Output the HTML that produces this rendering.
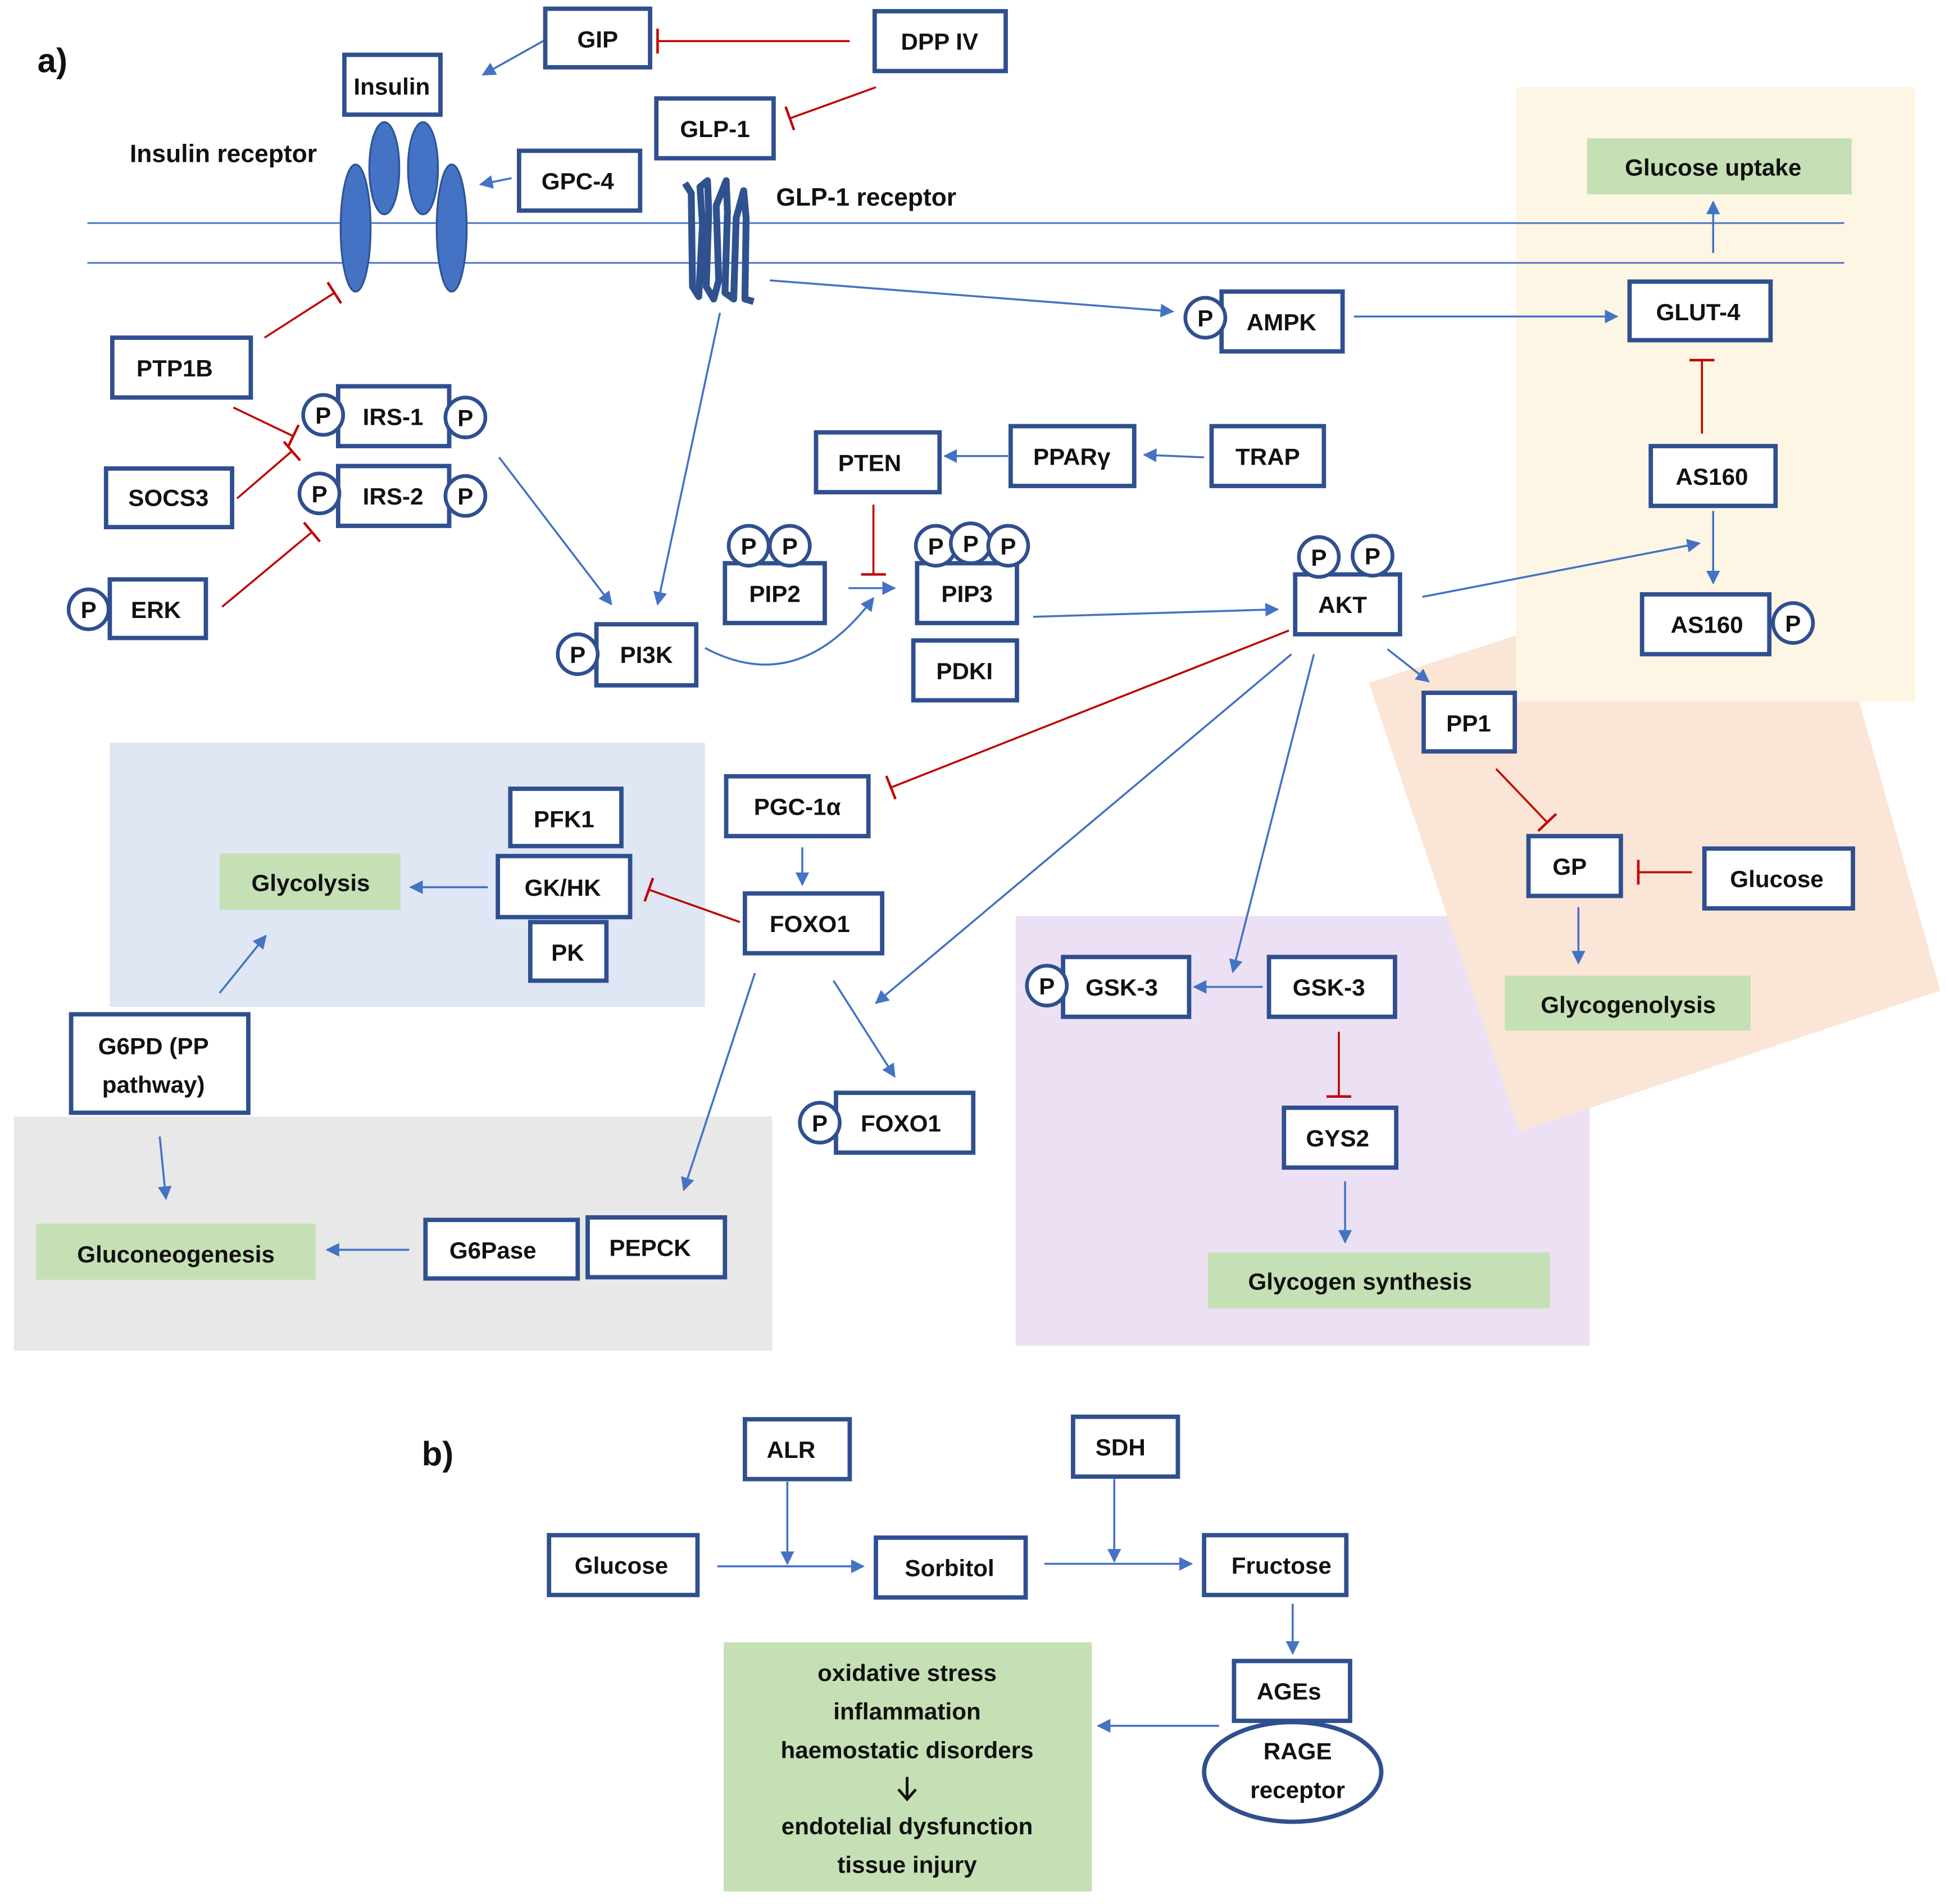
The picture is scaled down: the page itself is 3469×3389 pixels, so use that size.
<!DOCTYPE html>
<html><head><meta charset="utf-8"><style>
html,body{margin:0;padding:0;background:#fff}
svg{display:block}
text{font-family:"Liberation Sans",sans-serif;font-weight:bold;font-size:19px;fill:#111}
.b{fill:#fff;stroke:#2f4f8f;stroke-width:3.5}
.a{stroke:#4472c4;stroke-width:1.6;fill:none;marker-end:url(#ah)}
.r{stroke:#c00000;stroke-width:1.6;fill:none;marker-end:url(#tb)}
.p{fill:#fff;stroke:#2f4f8f;stroke-width:3}
.g{fill:#c5e0b4}
</style></head><body>
<svg width="3469" height="3389" viewBox="0 0 1562 1528" preserveAspectRatio="none" xmlns="http://www.w3.org/2000/svg">
<defs>
<marker id="ah" viewBox="0 0 10 10" refX="9" refY="5" markerWidth="11" markerHeight="11" orient="auto" markerUnits="userSpaceOnUse"><path d="M0,0 L10,5 L0,10 z" fill="#4472c4"/></marker>
<marker id="tb" viewBox="0 0 4 20" refX="2" refY="10" markerWidth="4" markerHeight="20" orient="auto" markerUnits="userSpaceOnUse"><line x1="2" y1="0" x2="2" y2="20" stroke="#c00000" stroke-width="2"/></marker>
</defs>
<rect x="814" y="735" width="460" height="345" fill="#ece1f4"/>
<polygon points="1097,548 1215,510 1490,563 1555,795 1218,908" fill="#fbe5d6"/>
<rect x="1215" y="70" width="320" height="493" fill="#fef6e4"/>
<rect x="88" y="596" width="477" height="212" fill="#dfe6f4"/>
<rect x="11" y="896" width="608" height="188" fill="#e8e8e8"/>
<rect class="g" x="1272" y="111" width="212" height="45"/>
<rect class="g" x="176" y="685" width="145" height="45"/>
<rect class="g" x="29" y="982" width="224" height="45"/>
<rect class="g" x="1206" y="783" width="197" height="44"/>
<rect class="g" x="968" y="1005" width="274" height="45"/>
<rect class="g" x="580" y="1318" width="295" height="200"/>
<text x="1373" y="141" text-anchor="middle">Glucose uptake</text>
<text x="249" y="715" text-anchor="middle">Glycolysis</text>
<text x="141" y="1013" text-anchor="middle">Gluconeogenesis</text>
<text x="1305" y="813" text-anchor="middle">Glycogenolysis</text>
<text x="1090" y="1035" text-anchor="middle">Glycogen synthesis</text>
<g text-anchor="middle"><text x="727" y="1349">oxidative stress</text><text x="727" y="1380">inflammation</text><text x="727" y="1411">haemostatic disorders</text><text x="727" y="1472">endotelial dysfunction</text><text x="727" y="1503">tissue injury</text></g>
<path d="M727,1426 L727,1444 M720,1436 L727,1444 L734,1436" stroke="#111" stroke-width="2.2" fill="none"/>
<line x1="70" y1="179" x2="1478" y2="179" stroke="#4472c4" stroke-width="1.3"/>
<line x1="70" y1="211" x2="1478" y2="211" stroke="#4472c4" stroke-width="1.3"/>
<g fill="#4472c4" stroke="#2f5597" stroke-width="1.5">
<ellipse cx="285" cy="183" rx="12" ry="51"/><ellipse cx="308" cy="135" rx="12" ry="37"/><ellipse cx="339" cy="135" rx="12" ry="37"/><ellipse cx="362" cy="183" rx="12" ry="51"/></g>
<path d="M549,147 L554,155 L555,230 L560,238 L563,180 L561,150 L567,145 L568,170 L566,230 L572,240 L576,225 L574,165 L582,145 L583,170 L581,235 L588,240 L590,175 L596,153 L598,175 L597,240 L604,242" fill="none" stroke="#2f528f" stroke-width="5.5" stroke-linejoin="round"/>
<text x="104" y="130" style="font-size:20px">Insulin receptor</text>
<text x="622" y="165" style="font-size:20px">GLP-1 receptor</text>
<text x="30" y="58" style="font-size:27px">a)</text>
<text x="338" y="1176" style="font-size:27px">b)</text>
<path class="a" d="M437,32 L387,60"/>
<path class="a" d="M410,143 L385,148"/>
<path class="a" d="M617,225 L940,250"/>
<path class="a" d="M1085,254 L1296,254"/>
<path class="a" d="M1373,203 L1373,162"/>
<path class="a" d="M1373,410 L1373,468"/>
<path class="a" d="M1140,479 L1362,436"/>
<path class="a" d="M577,251 L527,485"/>
<path class="a" d="M400,367 L490,485"/>
<path class="a" d="M565,520 Q640,560 700,480"/>
<path class="a" d="M680,472 L717,472"/>
<path class="a" d="M828,495 L1024,489"/>
<path class="a" d="M808,366 L757,366"/>
<path class="a" d="M965,367 L917,365"/>
<path class="a" d="M1112,521 L1145,547"/>
<path class="a" d="M1053,525 L988,780"/>
<path class="a" d="M1035,525 L702,805"/>
<path class="a" d="M643,680 L643,710"/>
<path class="a" d="M668,787 L717,864"/>
<path class="a" d="M605,781 L548,955"/>
<path class="a" d="M391,712 L329,712"/>
<path class="a" d="M176,797 L213,751"/>
<path class="a" d="M128,912 L133,962"/>
<path class="a" d="M328,1003 L262,1003"/>
<path class="a" d="M1012,792 L957,792"/>
<path class="a" d="M1078,948 L1078,997"/>
<path class="a" d="M1265,728 L1265,773"/>
<path class="a" d="M575,1257 L692,1257"/>
<path class="a" d="M631,1189 L631,1255"/>
<path class="a" d="M837,1255 L955,1255"/>
<path class="a" d="M893,1187 L893,1253"/>
<path class="a" d="M1036,1287 L1036,1327"/>
<path class="a" d="M977,1385 L880,1385"/>
<path class="r" d="M681,33 L527,33"/>
<path class="r" d="M702,70 L633,95"/>
<path class="r" d="M212,271 L268,235"/>
<path class="r" d="M187,327 L235,350"/>
<path class="r" d="M190,400 L234,362"/>
<path class="r" d="M178,487 L250,427"/>
<path class="r" d="M700,405 L700,461"/>
<path class="r" d="M1033,506 L714,632"/>
<path class="r" d="M593,740 L520,714"/>
<path class="r" d="M1364,348 L1364,289"/>
<path class="r" d="M1199,617 L1240,660"/>
<path class="r" d="M1356,700 L1313,700"/>
<path class="r" d="M1073,828 L1073,880"/>
<g>
<rect class="b" x="437" y="7" width="84" height="47"/>
<rect class="b" x="701" y="9" width="105" height="48"/>
<rect class="b" x="276" y="44" width="77" height="48"/>
<rect class="b" x="526" y="79" width="94" height="48"/>
<rect class="b" x="416" y="121" width="97" height="48"/>
<rect class="b" x="1306" y="226" width="113" height="47"/>
<rect class="b" x="979" y="234" width="97" height="48"/>
<rect class="b" x="90" y="271" width="111" height="48"/>
<rect class="b" x="271" y="310" width="89" height="48"/>
<rect class="b" x="271" y="374" width="89" height="48"/>
<rect class="b" x="85" y="376" width="101" height="47"/>
<rect class="b" x="654" y="347" width="99" height="48"/>
<rect class="b" x="810" y="342" width="99" height="48"/>
<rect class="b" x="971" y="342" width="90" height="48"/>
<rect class="b" x="1323" y="358" width="100" height="48"/>
<rect class="b" x="581" y="452" width="80" height="48"/>
<rect class="b" x="735" y="452" width="80" height="48"/>
<rect class="b" x="1038" y="461" width="84" height="48"/>
<rect class="b" x="88" y="465" width="77" height="47"/>
<rect class="b" x="1316" y="477" width="102" height="48"/>
<rect class="b" x="478" y="501" width="80" height="49"/>
<rect class="b" x="732" y="514" width="83" height="48"/>
<rect class="b" x="1141" y="556" width="73" height="47"/>
<rect class="b" x="582" y="623" width="114" height="48"/>
<rect class="b" x="409" y="633" width="89" height="46"/>
<rect class="b" x="425" y="740" width="61" height="47"/>
<rect class="b" x="399" y="687" width="106" height="49"/>
<rect class="b" x="1225" y="671" width="74" height="48"/>
<rect class="b" x="1366" y="681" width="119" height="48"/>
<rect class="b" x="597" y="717" width="110" height="48"/>
<rect class="b" x="852" y="768" width="101" height="48"/>
<rect class="b" x="1017" y="768" width="101" height="48"/>
<rect class="b" x="57" y="814" width="142" height="79"/>
<rect class="b" x="670" y="877" width="110" height="48"/>
<rect class="b" x="1029" y="889" width="90" height="48"/>
<rect class="b" x="341" y="979" width="122" height="47"/>
<rect class="b" x="471" y="977" width="110" height="48"/>
<rect class="b" x="597" y="1139" width="84" height="48"/>
<rect class="b" x="860" y="1137" width="84" height="48"/>
<rect class="b" x="440" y="1232" width="119" height="48"/>
<rect class="b" x="702" y="1234" width="120" height="48"/>
<rect class="b" x="965" y="1232" width="114" height="48"/>
<rect class="b" x="989" y="1333" width="93" height="48"/>
<ellipse class="b" cx="1036" cy="1422" rx="71" ry="40"/>
</g>
<g text-anchor="middle">
<text x="479" y="38">GIP</text>
<text x="753" y="40">DPP IV</text>
<text x="314" y="76">Insulin</text>
<text x="573" y="110">GLP-1</text>
<text x="463" y="152">GPC-4</text>
<text x="1361" y="257">GLUT-4</text>
<text x="1027" y="265">AMPK</text>
<text x="140" y="302">PTP1B</text>
<text x="315" y="341">IRS-1</text>
<text x="315" y="405">IRS-2</text>
<text x="135" y="406">SOCS3</text>
<text x="697" y="378">PTEN</text>
<text x="859" y="373">PPARγ</text>
<text x="1016" y="373">TRAP</text>
<text x="1372" y="389">AS160</text>
<text x="621" y="483">PIP2</text>
<text x="775" y="483">PIP3</text>
<text x="1076" y="492">AKT</text>
<text x="125" y="496">ERK</text>
<text x="1368" y="508">AS160</text>
<text x="518" y="532">PI3K</text>
<text x="773" y="545">PDKI</text>
<text x="1177" y="587">PP1</text>
<text x="639" y="654">PGC-1α</text>
<text x="452" y="664">PFK1</text>
<text x="451" y="719">GK/HK</text>
<text x="455" y="771">PK</text>
<text x="1258" y="702">GP</text>
<text x="1424" y="712">Glucose</text>
<text x="649" y="748">FOXO1</text>
<text x="899" y="799">GSK-3</text>
<text x="1065" y="799">GSK-3</text>
<text x="123" y="846">G6PD (PP</text>
<text x="123" y="877">pathway)</text>
<text x="722" y="908">FOXO1</text>
<text x="1072" y="920">GYS2</text>
<text x="395" y="1010">G6Pase</text>
<text x="521" y="1008">PEPCK</text>
<text x="634" y="1170">ALR</text>
<text x="898" y="1168">SDH</text>
<text x="498" y="1263">Glucose</text>
<text x="761" y="1265">Sorbitol</text>
<text x="1027" y="1263">Fructose</text>
<text x="1033" y="1364">AGEs</text>
<text x="1040" y="1412">RAGE</text>
<text x="1040" y="1443">receptor</text>
</g>
<g>
<circle class="p" cx="966" cy="255" r="16"/><circle class="p" cx="259" cy="333" r="16"/><circle class="p" cx="373" cy="335" r="16"/><circle class="p" cx="256" cy="396" r="16"/><circle class="p" cx="373" cy="398" r="16"/><circle class="p" cx="71" cy="489" r="16"/><circle class="p" cx="463" cy="525" r="16"/><circle class="p" cx="600" cy="438" r="16"/><circle class="p" cx="633" cy="438" r="16"/><circle class="p" cx="750" cy="438" r="16"/><circle class="p" cx="778" cy="436" r="16"/><circle class="p" cx="808" cy="438" r="16"/><circle class="p" cx="1057" cy="447" r="16"/><circle class="p" cx="1100" cy="446" r="16"/><circle class="p" cx="1437" cy="500" r="16"/><circle class="p" cx="839" cy="791" r="16"/><circle class="p" cx="657" cy="901" r="16"/>
</g>
<g text-anchor="middle">
<text x="966" y="262">P</text><text x="259" y="340">P</text><text x="373" y="342">P</text><text x="256" y="403">P</text><text x="373" y="405">P</text><text x="71" y="496">P</text><text x="463" y="532">P</text><text x="600" y="445">P</text><text x="633" y="445">P</text><text x="750" y="445">P</text><text x="778" y="443">P</text><text x="808" y="445">P</text><text x="1057" y="454">P</text><text x="1100" y="453">P</text><text x="1437" y="507">P</text><text x="839" y="798">P</text><text x="657" y="908">P</text>
</g>
</svg>
</body></html>
